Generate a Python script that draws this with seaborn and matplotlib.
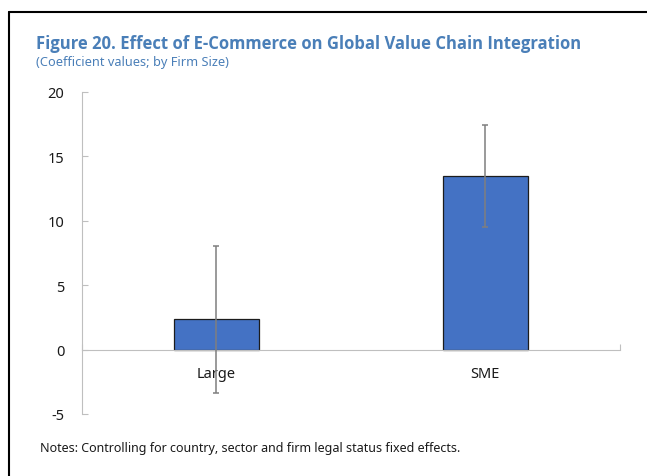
import matplotlib
matplotlib.use("Agg")
import matplotlib.pyplot as plt
from matplotlib.lines import Line2D
import seaborn as sns
import pandas as pd

# Coefficients by firm size, with the ends of their confidence bands
categories = ["Large", "SME"]
coefficients = [2.35, 13.5]
ci_low = [-3.35, 9.55]
ci_high = [8.05, 17.45]
y_ticks = [-5, 0, 5, 10, 15, 20]

title = "Figure 20. Effect of E-Commerce on Global Value Chain Integration"
subtitle = "(Coefficient values; by Firm Size)"
note = "Notes: Controlling for country, sector and firm legal status fixed effects."

sns.set_theme(style="white")
plt.rcParams["font.family"] = ["Noto Sans", "DejaVu Sans"]

W, H = 647, 477
fig = plt.figure(figsize=(W / 100, H / 100), dpi=100)
ax = fig.add_axes([81.7 / W, 1 - 415 / H, (619.5 - 81.7) / W, (415 - 93) / H])

df = pd.DataFrame({"size": categories, "coef": coefficients})
sns.barplot(data=df, x="size", y="coef", color="#4472C4", saturation=1,
            width=0.316, edgecolor="#1c1c1c", linewidth=0.9, errorbar=None, ax=ax)

err_lo = [c - lo for c, lo in zip(coefficients, ci_low)]
err_hi = [hi - c for c, hi in zip(coefficients, ci_high)]
ax.errorbar(range(len(categories)), coefficients, yerr=[err_lo, err_hi], fmt="none",
            ecolor="#7f7f7f", elinewidth=1.1, capsize=2, capthick=1.1, zorder=5)

grid_grey = "#bfbfbf"
ax.set_xlim(-0.5, 1.5)
ax.set_ylim(-5, 20)
ax.set_yticks(y_ticks)
ax.set_yticklabels([str(v) for v in y_ticks])
ax.set_xlabel("")
ax.set_ylabel("")

for side in ["top", "right"]:
    ax.spines[side].set_visible(False)
ax.spines["left"].set_color(grid_grey)
ax.spines["left"].set_linewidth(0.8)
ax.spines["bottom"].set_position(("data", 0))
ax.spines["bottom"].set_color(grid_grey)
ax.spines["bottom"].set_linewidth(0.8)

ax.tick_params(axis="y", direction="in", length=4, width=0.8, color=grid_grey,
               pad=12.5, labelsize=10.5, labelcolor="#1a1a1a", left=True)
ax.tick_params(axis="x", which="major", length=0, pad=12, labelsize=10.5,
               labelcolor="#1a1a1a", bottom=True)
ax.set_xticks([-0.5, 1.5], minor=True)
ax.tick_params(axis="x", which="minor", direction="in", length=4, width=0.8,
               color=grid_grey, bottom=True)

title_blue = "#4a7fb8"
fig.text(36 / W, 1 - 49 / H, title, fontsize=12, fontweight="bold",
         family=["Open Sans", "DejaVu Sans"], color=title_blue,
         va="baseline", ha="left")
fig.text(36 / W, 1 - 66.5 / H, subtitle, fontsize=9.2, color=title_blue,
         va="baseline", ha="left")
fig.text(40 / W, 1 - 452 / H, note, fontsize=9, color="#1a1a1a",
         va="baseline", ha="left")

# panel frame along the top and left edges
fig.add_artist(Line2D([8.5 / W, 1], [1 - 12.5 / H, 1 - 12.5 / H],
                      transform=fig.transFigure, color="black", lw=1.5))
fig.add_artist(Line2D([8.5 / W, 8.5 / W], [0, 1 - 12.5 / H],
                      transform=fig.transFigure, color="black", lw=1.5))

fig.savefig("out.png", dpi=100)
